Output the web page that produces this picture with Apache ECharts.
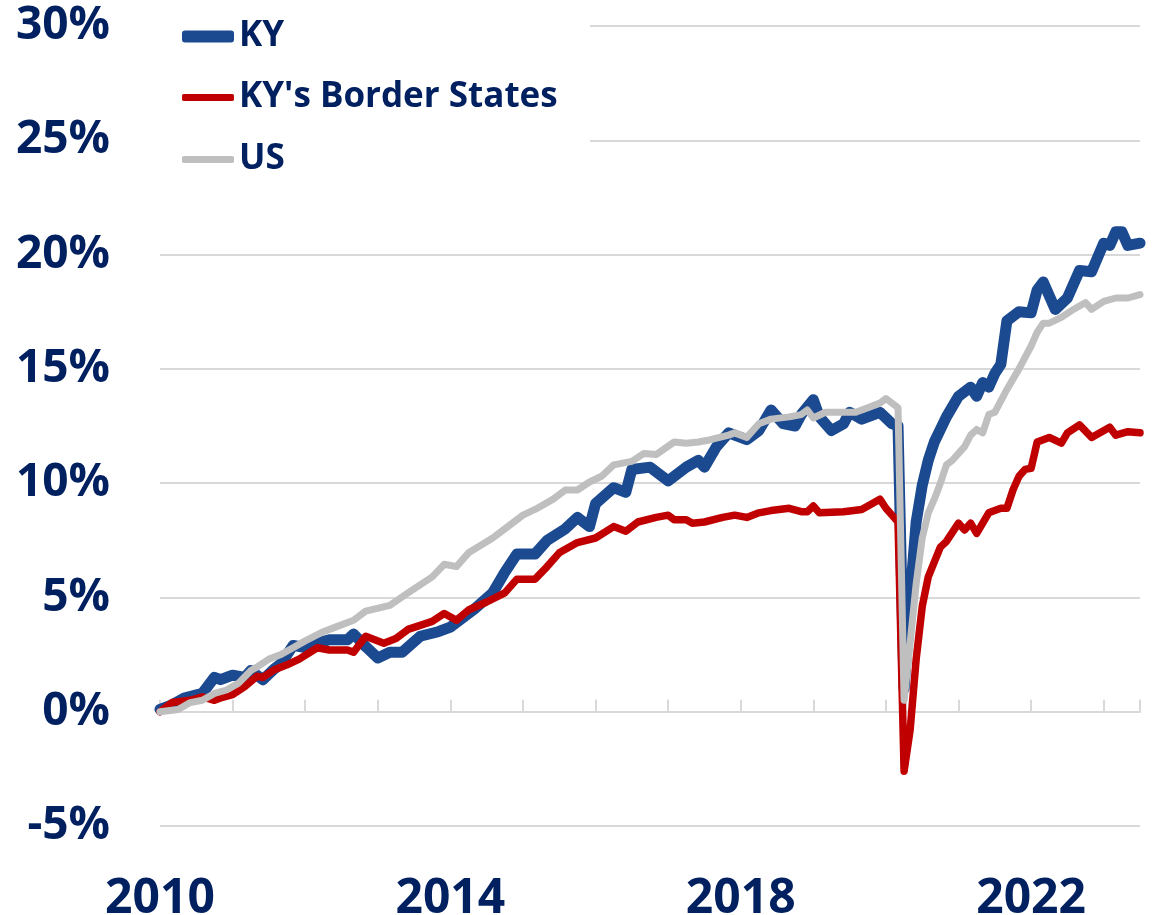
<!DOCTYPE html>
<html>
<head>
    <meta charset="utf-8">
    <title>KY vs Border States vs US</title>
    <script src="https://cdn.jsdelivr.net/npm/echarts@6/dist/echarts.min.js"></script>
    <style>
        html, body { margin: 0; padding: 0; background: #fff; }
        #chart-container { width: 1153px; height: 915px; }
    </style>
</head>
<body>
<div id="chart-container"></div>
<script>
    // months counted from Jan 2010, values in percent
    var kyMonths = [0, 2, 4, 7, 9, 10, 12, 14, 15, 17, 19, 20, 22, 24, 26, 28, 31, 32, 34, 36, 38, 40, 43, 46, 48, 52, 55, 57, 59, 62, 64, 67, 69, 71, 72, 75, 77, 78, 81, 84, 87, 89, 90, 92, 94, 97, 99, 101, 103, 105, 106, 108, 109, 111, 113, 114, 116, 117, 119, 121, 122, 123, 124, 125, 126, 127, 128, 130, 132, 134, 135, 136, 137, 138, 139, 140, 142, 144, 145, 146, 148, 150, 152, 154, 156, 157, 158, 159, 160, 162];
    var kyValues = [0.1, 0.3, 0.6, 0.8, 1.5, 1.4, 1.6, 1.5, 1.8, 1.4, 1.9, 2.1, 2.9, 2.8, 3.0, 3.15, 3.15, 3.4, 2.85, 2.35, 2.6, 2.6, 3.3, 3.5, 3.7, 4.5, 5.2, 6.1, 6.9, 6.9, 7.5, 8.0, 8.5, 8.1, 9.1, 9.8, 9.6, 10.6, 10.7, 10.1, 10.7, 11.0, 10.7, 11.6, 12.2, 11.9, 12.3, 13.2, 12.6, 12.5, 13.0, 13.65, 12.9, 12.3, 12.6, 13.1, 12.8, 12.9, 13.1, 12.6, 12.5, 1.0, 5.0, 8.3, 9.9, 11.0, 11.8, 12.9, 13.8, 14.2, 13.8, 14.4, 14.2, 14.8, 15.2, 17.1, 17.5, 17.45, 18.45, 18.8, 17.6, 18.1, 19.3, 19.25, 20.5, 20.4, 21.0, 21.0, 20.4, 20.5];

    var borderMonths = [0, 2, 5, 7, 9, 10, 12, 14, 16, 17, 19, 21, 23, 26, 28, 31, 32, 34, 37, 39, 41, 45, 47, 49, 51, 54, 57, 59, 62, 64, 66, 69, 72, 75, 77, 79, 82, 84, 85, 87, 88, 90, 93, 95, 97, 99, 101, 104, 106, 107, 108, 109, 113, 116, 119, 120, 121, 122, 123, 124, 125, 126, 127, 129, 130, 132, 133, 134, 135, 137, 139, 140, 141, 142, 143, 144, 145, 147, 149, 150, 152, 154, 157, 158, 160, 162];
    var borderValues = [0.0, 0.4, 0.5, 0.65, 0.5, 0.6, 0.75, 1.1, 1.55, 1.5, 1.85, 2.05, 2.3, 2.8, 2.7, 2.7, 2.6, 3.3, 3.0, 3.2, 3.6, 3.95, 4.3, 4.0, 4.45, 4.8, 5.2, 5.8, 5.8, 6.35, 6.95, 7.4, 7.6, 8.1, 7.9, 8.3, 8.5, 8.6, 8.4, 8.4, 8.25, 8.3, 8.5, 8.6, 8.5, 8.7, 8.8, 8.9, 8.75, 8.75, 9.0, 8.7, 8.75, 8.85, 9.3, 8.9, 8.6, 8.3, -2.6, -0.8, 2.3, 4.6, 5.9, 7.2, 7.45, 8.25, 7.95, 8.25, 7.8, 8.7, 8.9, 8.9, 9.7, 10.3, 10.6, 10.65, 11.8, 12.0, 11.75, 12.2, 12.55, 12.0, 12.45, 12.1, 12.25, 12.2];

    var usMonths = [0, 3, 5, 7, 9, 11, 13, 15, 16, 18, 20, 22, 24, 27, 29, 32, 34, 38, 41, 45, 47, 49, 51, 55, 57, 60, 62, 65, 67, 69, 71, 73, 75, 78, 80, 82, 85, 87, 89, 91, 94, 95, 97, 99, 101, 104, 106, 107, 108, 110, 112, 115, 117, 119, 120, 122, 123, 124, 125, 126, 127, 128, 129, 130, 131, 132, 133, 134, 135, 136, 137, 138, 139, 140, 142, 144, 145, 146, 147, 149, 151, 153, 154, 156, 158, 160, 162];
    var usValues = [0.0, 0.1, 0.4, 0.5, 0.8, 0.95, 1.25, 1.8, 1.95, 2.3, 2.5, 2.8, 3.1, 3.5, 3.7, 4.0, 4.4, 4.65, 5.2, 5.9, 6.45, 6.35, 6.95, 7.6, 8.0, 8.6, 8.85, 9.3, 9.7, 9.7, 10.05, 10.3, 10.8, 10.95, 11.3, 11.25, 11.8, 11.75, 11.8, 11.9, 12.1, 12.2, 12.0, 12.6, 12.8, 12.9, 13.0, 13.2, 12.85, 13.1, 13.1, 13.1, 13.3, 13.5, 13.7, 13.3, 0.5, 3.0, 5.6, 7.6, 8.7, 9.3, 10.0, 10.8, 11.0, 11.3, 11.6, 12.1, 12.35, 12.2, 13.0, 13.1, 13.6, 14.1, 15.0, 16.0, 16.6, 17.0, 17.0, 17.25, 17.6, 17.9, 17.6, 17.95, 18.1, 18.1, 18.25];

    var yTicks = [-5, 0, 5, 10, 15, 20, 25, 30];
    var yearLabels = [2010, 2014, 2018, 2022];

    function pairs(months, values) {
        return months.map(function (m, i) { return [2010 + m / 12, values[i]]; });
    }

    var textColor = '#002060';
    var gridColor = '#d9d9d9';
    var font = '"Open Sans", sans-serif';

    var myChart = echarts.init(document.getElementById('chart-container'));

    function legendFor(name, top, h) {
        return {
            data: [name],
            left: 182,
            top: top,
            padding: 0,
            z: 20,
            itemWidth: 52,
            itemHeight: h,
            icon: 'roundRect',
            textStyle: { color: textColor, fontSize: 35, fontWeight: 'bold', fontFamily: font }
        };
    }

    var option = {
        animation: false,
        backgroundColor: '#fff',
        grid: { left: 160, right: 13, top: 26, bottom: 89, outerBoundsMode: 'none' },
        legend: [
            legendFor('KY', 19, 12),
            legendFor("KY's Border States", 80, 7),
            legendFor('US', 142, 7)
        ],
        graphic: [{
            type: 'rect',
            z: 5,
            shape: { x: 150, y: 0, width: 440, height: 185 },
            style: { fill: '#fff' }
        }],
        xAxis: [
            { // labels at the bottom
                type: 'value',
                min: 2010,
                max: 2023.5,
                interval: 1,
                position: 'bottom',
                axisLine: { show: false, onZero: false },
                axisTick: { show: false },
                splitLine: { show: false },
                axisLabel: {
                    margin: 49,
                    color: textColor,
                    fontSize: 48,
                    fontWeight: 'bold',
                    fontFamily: font,
                    showMaxLabel: false,
                    formatter: function (v) {
                        return yearLabels.indexOf(v) >= 0 ? String(v) : '';
                    }
                }
            },
            { // axis line + ticks sitting on 0%
                type: 'value',
                min: 2010,
                max: 2023.5,
                interval: 1,
                position: 'bottom',
                axisLine: { show: true, onZero: true, lineStyle: { color: gridColor, width: 2 } },
                axisTick: { show: true, inside: true, length: 12, lineStyle: { color: gridColor, width: 2 } },
                splitLine: { show: false },
                axisLabel: { show: false }
            }
        ],
        yAxis: {
            type: 'value',
            min: yTicks[0],
            max: yTicks[yTicks.length - 1],
            interval: 5,
            axisLine: { show: false },
            axisTick: { show: false },
            splitLine: { lineStyle: { color: gridColor, width: 2 } },
            axisLabel: {
                margin: 50,
                color: textColor,
                fontSize: 46,
                fontWeight: 'bold',
                fontFamily: font,
                formatter: '{value}%'
            }
        },
        series: [
            {
                name: 'KY',
                type: 'line',
                data: pairs(kyMonths, kyValues),
                showSymbol: false,
                color: '#1b4a91',
                lineStyle: { width: 11, cap: 'round', join: 'round' }
            },
            {
                name: "KY's Border States",
                type: 'line',
                data: pairs(borderMonths, borderValues),
                showSymbol: false,
                color: '#c00000',
                lineStyle: { width: 7.5, cap: 'round', join: 'round' }
            },
            {
                name: 'US',
                type: 'line',
                data: pairs(usMonths, usValues),
                showSymbol: false,
                color: '#bfbfbf',
                lineStyle: { width: 7, cap: 'round', join: 'round' }
            }
        ]
    };

    myChart.setOption(option);
</script>
</body>
</html>
